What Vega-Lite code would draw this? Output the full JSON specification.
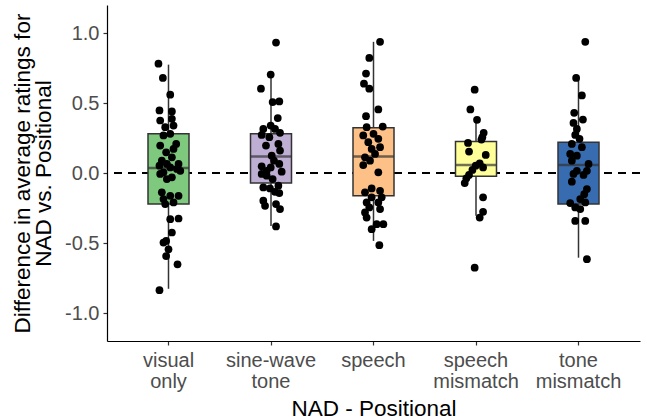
{
  "$schema": "https://vega.github.io/schema/vega-lite/v6.json",
  "width": 533,
  "height": 336,
  "autosize": {"type": "none"},
  "padding": {"left": 107, "top": 5, "right": 7, "bottom": 78},
  "background": "white",
  "config": {
    "view": {"stroke": null},
    "font": "Liberation Sans",
    "axis": {
      "grid": false,
      "domainColor": "black",
      "domainWidth": 1.2,
      "tickColor": "#333333",
      "tickSize": 4,
      "tickWidth": 1.2,
      "labelColor": "#4d4d4d",
      "labelFont": "Liberation Sans",
      "labelFontSize": 20,
      "titleFont": "Liberation Sans",
      "titleFontSize": 22.5,
      "titleFontWeight": "normal",
      "titleColor": "black"
    }
  },
  "datasets": {
    "pts": [
      {"c":"visual only","v":0.781,"j":-0.098},{"c":"visual only","v":0.679,"j":-0.055},{"c":"visual only","v":0.559,"j":0.017},{"c":"visual only","v":0.447,"j":-0.088},{"c":"visual only","v":0.44,"j":0.033},{"c":"visual only","v":0.375,"j":-0.081},{"c":"visual only","v":0.387,"j":0.033},{"c":"visual only","v":0.327,"j":-0.032},{"c":"visual only","v":0.339,"j":0.049},{"c":"visual only","v":0.268,"j":-0.049},{"c":"visual only","v":0.28,"j":0.017},{"c":"visual only","v":0.196,"j":-0.081},{"c":"visual only","v":0.208,"j":0.075},{"c":"visual only","v":0.172,"j":0.049},{"c":"visual only","v":0.148,"j":-0.023},{"c":"visual only","v":0.112,"j":0.033},{"c":"visual only","v":0.088,"j":-0.065},{"c":"visual only","v":0.065,"j":0.098},{"c":"visual only","v":0.065,"j":-0.016},{"c":"visual only","v":0.052,"j":-0.088},{"c":"visual only","v":0.04,"j":0.017},{"c":"visual only","v":0.029,"j":0.082},{"c":"visual only","v":0.005,"j":-0.049},{"c":"visual only","v":0.016,"j":0.115},{"c":"visual only","v":-0.007,"j":-0.081},{"c":"visual only","v":-0.031,"j":0.033},{"c":"visual only","v":-0.043,"j":-0.016},{"c":"visual only","v":-0.138,"j":-0.065},{"c":"visual only","v":-0.163,"j":0.017},{"c":"visual only","v":-0.163,"j":0.098},{"c":"visual only","v":-0.186,"j":-0.049},{"c":"visual only","v":-0.21,"j":0.049},{"c":"visual only","v":-0.222,"j":-0.032},{"c":"visual only","v":-0.33,"j":0.017},{"c":"visual only","v":-0.325,"j":0.098},{"c":"visual only","v":-0.425,"j":0.033},{"c":"visual only","v":-0.485,"j":-0.023},{"c":"visual only","v":-0.497,"j":-0.049},{"c":"visual only","v":-0.545,"j":0},{"c":"visual only","v":-0.593,"j":-0.023},{"c":"visual only","v":-0.652,"j":0.088},{"c":"visual only","v":-0.837,"j":-0.088},
      {"c":"sine-wave tone","v":0.932,"j":0.049},{"c":"sine-wave tone","v":0.703,"j":-0.003},{"c":"sine-wave tone","v":0.602,"j":-0.098},{"c":"sine-wave tone","v":0.507,"j":0.016},{"c":"sine-wave tone","v":0.511,"j":0.081},{"c":"sine-wave tone","v":0.392,"j":0.066},{"c":"sine-wave tone","v":0.339,"j":-0.003},{"c":"sine-wave tone","v":0.315,"j":-0.075},{"c":"sine-wave tone","v":0.315,"j":0.039},{"c":"sine-wave tone","v":0.287,"j":0.088},{"c":"sine-wave tone","v":0.272,"j":-0.091},{"c":"sine-wave tone","v":0.256,"j":-0.016},{"c":"sine-wave tone","v":0.196,"j":-0.049},{"c":"sine-wave tone","v":0.208,"j":0.072},{"c":"sine-wave tone","v":0.16,"j":0.088},{"c":"sine-wave tone","v":0.124,"j":0.007},{"c":"sine-wave tone","v":0.088,"j":0.029},{"c":"sine-wave tone","v":0.065,"j":0.081},{"c":"sine-wave tone","v":0.048,"j":-0.091},{"c":"sine-wave tone","v":0.016,"j":-0.042},{"c":"sine-wave tone","v":0.04,"j":-0.003},{"c":"sine-wave tone","v":0.009,"j":0.104},{"c":"sine-wave tone","v":-0.007,"j":-0.091},{"c":"sine-wave tone","v":-0.019,"j":-0.042},{"c":"sine-wave tone","v":-0.043,"j":0.016},{"c":"sine-wave tone","v":-0.103,"j":-0.075},{"c":"sine-wave tone","v":-0.11,"j":-0.01},{"c":"sine-wave tone","v":-0.091,"j":0.072},{"c":"sine-wave tone","v":-0.134,"j":0.039},{"c":"sine-wave tone","v":-0.143,"j":0.081},{"c":"sine-wave tone","v":-0.198,"j":-0.075},{"c":"sine-wave tone","v":-0.234,"j":-0.058},{"c":"sine-wave tone","v":-0.222,"j":0.049},{"c":"sine-wave tone","v":-0.258,"j":0.088},{"c":"sine-wave tone","v":-0.382,"j":0.049},
      {"c":"speech","v":0.937,"j":0.064},{"c":"speech","v":0.822,"j":-0.041},{"c":"speech","v":0.71,"j":-0.073},{"c":"speech","v":0.638,"j":-0.093},{"c":"speech","v":0.602,"j":-0.041},{"c":"speech","v":0.454,"j":0.047},{"c":"speech","v":0.406,"j":-0.073},{"c":"speech","v":0.327,"j":-0.067},{"c":"speech","v":0.332,"j":0.09},{"c":"speech","v":0.28,"j":0},{"c":"speech","v":0.268,"j":-0.1},{"c":"speech","v":0.244,"j":0.047},{"c":"speech","v":0.22,"j":-0.051},{"c":"speech","v":0.184,"j":0.064},{"c":"speech","v":0.172,"j":-0.018},{"c":"speech","v":0.136,"j":0.015},{"c":"speech","v":0.112,"j":-0.083},{"c":"speech","v":0.088,"j":-0.034},{"c":"speech","v":0.057,"j":-0.1},{"c":"speech","v":0.005,"j":0.047},{"c":"speech","v":-0.11,"j":-0.018},{"c":"speech","v":-0.127,"j":0.064},{"c":"speech","v":-0.138,"j":-0.083},{"c":"speech","v":-0.174,"j":-0.018},{"c":"speech","v":-0.174,"j":0.08},{"c":"speech","v":-0.21,"j":-0.067},{"c":"speech","v":-0.21,"j":0.047},{"c":"speech","v":-0.246,"j":-0.041},{"c":"speech","v":-0.258,"j":0.064},{"c":"speech","v":-0.282,"j":-0.083},{"c":"speech","v":-0.318,"j":-0.067},{"c":"speech","v":-0.366,"j":0.031},{"c":"speech","v":-0.366,"j":0.096},{"c":"speech","v":-0.401,"j":-0.018},{"c":"speech","v":-0.516,"j":0.057},
      {"c":"speech mismatch","v":0.595,"j":-0.013},{"c":"speech mismatch","v":0.454,"j":-0.055},{"c":"speech mismatch","v":0.38,"j":0.01},{"c":"speech mismatch","v":0.287,"j":0.075},{"c":"speech mismatch","v":0.256,"j":0.062},{"c":"speech mismatch","v":0.239,"j":0.053},{"c":"speech mismatch","v":0.215,"j":-0.078},{"c":"speech mismatch","v":0.153,"j":-0.068},{"c":"speech mismatch","v":0.129,"j":0.095},{"c":"speech mismatch","v":0.069,"j":0.036},{"c":"speech mismatch","v":0.052,"j":-0.003},{"c":"speech mismatch","v":0.04,"j":0.069},{"c":"speech mismatch","v":0.022,"j":-0.035},{"c":"speech mismatch","v":-0.014,"j":-0.068},{"c":"speech mismatch","v":-0.038,"j":-0.094},{"c":"speech mismatch","v":-0.072,"j":-0.11},{"c":"speech mismatch","v":-0.174,"j":0.069},{"c":"speech mismatch","v":-0.277,"j":0.069},{"c":"speech mismatch","v":-0.318,"j":0.036},{"c":"speech mismatch","v":-0.676,"j":-0.013},
      {"c":"tone mismatch","v":0.937,"j":0.066},{"c":"tone mismatch","v":0.679,"j":-0.023},{"c":"tone mismatch","v":0.554,"j":0.033},{"c":"tone mismatch","v":0.43,"j":-0.042},{"c":"tone mismatch","v":0.382,"j":0.043},{"c":"tone mismatch","v":0.358,"j":-0.049},{"c":"tone mismatch","v":0.315,"j":-0.016},{"c":"tone mismatch","v":0.272,"j":-0.032},{"c":"tone mismatch","v":0.244,"j":0.01},{"c":"tone mismatch","v":0.208,"j":-0.065},{"c":"tone mismatch","v":0.184,"j":0.033},{"c":"tone mismatch","v":0.136,"j":-0.081},{"c":"tone mismatch","v":0.124,"j":-0.016},{"c":"tone mismatch","v":0.088,"j":-0.065},{"c":"tone mismatch","v":0.065,"j":0.098},{"c":"tone mismatch","v":0.016,"j":-0.016},{"c":"tone mismatch","v":0.016,"j":0.082},{"c":"tone mismatch","v":-0.007,"j":-0.049},{"c":"tone mismatch","v":-0.014,"j":0.049},{"c":"tone mismatch","v":-0.062,"j":-0.065},{"c":"tone mismatch","v":-0.115,"j":0.082},{"c":"tone mismatch","v":-0.151,"j":0.056},{"c":"tone mismatch","v":-0.186,"j":0.017},{"c":"tone mismatch","v":-0.21,"j":0.066},{"c":"tone mismatch","v":-0.215,"j":-0.081},{"c":"tone mismatch","v":-0.246,"j":-0.032},{"c":"tone mismatch","v":-0.258,"j":0.017},{"c":"tone mismatch","v":-0.342,"j":-0.032},{"c":"tone mismatch","v":-0.342,"j":0.066},{"c":"tone mismatch","v":-0.616,"j":0.082}
    ],
    "box": [
      {"c":"visual only","wlo":-0.827,"q1":-0.222,"med":0.036,"q3":0.28,"whi":0.774},
      {"c":"sine-wave tone","wlo":-0.378,"q1":-0.072,"med":0.117,"q3":0.28,"whi":0.697},
      {"c":"speech","wlo":-0.485,"q1":-0.163,"med":0.117,"q3":0.323,"whi":0.937},
      {"c":"speech mismatch","wlo":-0.306,"q1":-0.024,"med":0.057,"q3":0.225,"whi":0.39},
      {"c":"tone mismatch","wlo":-0.605,"q1":-0.222,"med":0.058,"q3":0.22,"whi":0.679}
    ],
    "ref": [{"zero": 0}]
  },
  "layer": [
    {
      "data": {"name": "ref"},
      "mark": {"type": "rule", "color": "black", "strokeWidth": 2, "strokeDash": [8, 6]},
      "encoding": {
        "y": {"field": "zero", "type": "quantitative",
              "title": ["Difference in average ratings for", "NAD vs. Positional"],
              "scale": {"domain": [-1.2, 1.2], "nice": false, "zero": false},
              "axis": {"values": [-1, -0.5, 0, 0.5, 1], "labelExpr": "replace(format(datum.value, '.1f'), '\u2212', '-')", "labelPadding": 4, "titlePadding": 9, "titleLineHeight": 21}}
      }
    },
    {
      "data": {"name": "box"},
      "mark": {"type": "rule", "color": "#333333", "strokeWidth": 1.5},
      "encoding": {
        "x": {"field": "c", "type": "nominal", "title": "NAD - Positional",
              "scale": {"type": "band", "domain": ["visual only", "sine-wave tone", "speech", "speech mismatch", "tone mismatch"], "paddingInner": 0, "paddingOuter": 0.1},
              "axis": {"labelAngle": 0, "labelExpr": "split(datum.label, ' ')", "labelLineHeight": 21, "labelPadding": 5, "titlePadding": 6}},
        "y": {"field": "wlo", "type": "quantitative",
              "title": ["Difference in average ratings for", "NAD vs. Positional"],
              "axis": {"values": [-1, -0.5, 0, 0.5, 1], "labelExpr": "replace(format(datum.value, '.1f'), '\u2212', '-')", "labelPadding": 4, "titlePadding": 9, "titleLineHeight": 21}},
        "y2": {"field": "whi"}
      }
    },
    {
      "data": {"name": "box"},
      "mark": {"type": "bar", "width": 41, "stroke": "#333333", "strokeWidth": 1.5},
      "encoding": {
        "x": {"field": "c", "type": "nominal", "title": "NAD - Positional",
              "axis": {"labelAngle": 0, "labelExpr": "split(datum.label, ' ')", "labelLineHeight": 21, "labelPadding": 5, "titlePadding": 6}},
        "y": {"field": "q1", "type": "quantitative",
              "title": ["Difference in average ratings for", "NAD vs. Positional"],
              "axis": {"values": [-1, -0.5, 0, 0.5, 1], "labelExpr": "replace(format(datum.value, '.1f'), '\u2212', '-')", "labelPadding": 4, "titlePadding": 9, "titleLineHeight": 21}},
        "y2": {"field": "q3"},
        "color": {"field": "c", "type": "nominal", "legend": null,
                  "scale": {"domain": ["visual only", "sine-wave tone", "speech", "speech mismatch", "tone mismatch"],
                            "range": ["#7fc97f", "#beaed4", "#fdc086", "#ffff99", "#386cb0"]}}
      }
    },
    {
      "data": {"name": "box"},
      "mark": {"type": "tick", "color": "#333333", "size": 41, "thickness": 2.5},
      "encoding": {
        "x": {"field": "c", "type": "nominal", "title": "NAD - Positional",
              "axis": {"labelAngle": 0, "labelExpr": "split(datum.label, ' ')", "labelLineHeight": 21, "labelPadding": 5, "titlePadding": 6}},
        "y": {"field": "med", "type": "quantitative",
              "title": ["Difference in average ratings for", "NAD vs. Positional"],
              "axis": {"values": [-1, -0.5, 0, 0.5, 1], "labelExpr": "replace(format(datum.value, '.1f'), '\u2212', '-')", "labelPadding": 4, "titlePadding": 9, "titleLineHeight": 21}}
      }
    },
    {
      "data": {"name": "pts"},
      "mark": {"type": "circle", "color": "black", "opacity": 1, "size": 60},
      "encoding": {
        "x": {"field": "c", "type": "nominal", "title": "NAD - Positional",
              "axis": {"labelAngle": 0, "labelExpr": "split(datum.label, ' ')", "labelLineHeight": 21, "labelPadding": 5, "titlePadding": 6}},
        "xOffset": {"field": "j", "type": "quantitative", "scale": {"domain": [-0.5, 0.5]}},
        "y": {"field": "v", "type": "quantitative",
              "title": ["Difference in average ratings for", "NAD vs. Positional"],
              "axis": {"values": [-1, -0.5, 0, 0.5, 1], "labelExpr": "replace(format(datum.value, '.1f'), '\u2212', '-')", "labelPadding": 4, "titlePadding": 9, "titleLineHeight": 21}}
      }
    }
  ]
}
